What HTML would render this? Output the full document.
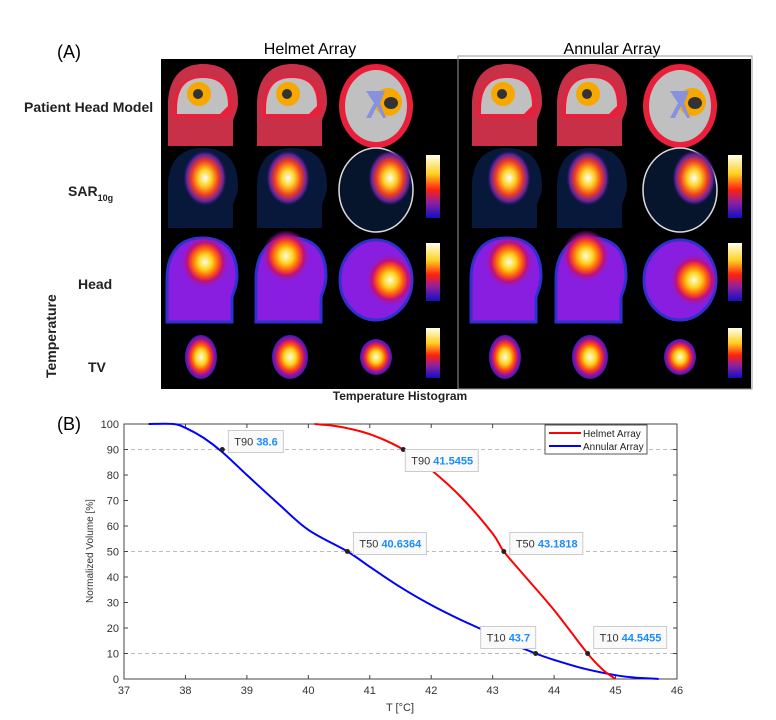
<!DOCTYPE html>
<html><head><meta charset="utf-8"><style>
body{margin:0;background:#fff;width:776px;height:720px;overflow:hidden;font-family:"Liberation Sans",sans-serif}
svg{position:absolute;left:0;top:0}
</style></head><body>
<svg id="fig" width="776" height="720" viewBox="0 0 776 720" xmlns="http://www.w3.org/2000/svg">
<defs>
<radialGradient id="hot" cx="50%" cy="50%" r="50%">
<stop offset="0" stop-color="#fffde0"/><stop offset="0.3" stop-color="#ffd21a"/><stop offset="0.55" stop-color="#ff5a10"/><stop offset="0.75" stop-color="#c0107a"/><stop offset="1" stop-color="#8a20c8" stop-opacity="0"/></radialGradient>
<radialGradient id="hotTV" cx="50%" cy="50%" r="50%">
<stop offset="0" stop-color="#fffde0"/><stop offset="0.35" stop-color="#ffd21a"/><stop offset="0.6" stop-color="#ff4a10"/><stop offset="0.8" stop-color="#b0108a"/><stop offset="1" stop-color="#3020c0"/></radialGradient>
<radialGradient id="sar" cx="50%" cy="50%" r="50%">
<stop offset="0" stop-color="#fff"/><stop offset="0.3" stop-color="#ffd020"/><stop offset="0.6" stop-color="#f04020"/><stop offset="0.85" stop-color="#6020a0"/><stop offset="1" stop-color="#0a1a40" stop-opacity="0"/></radialGradient>
<linearGradient id="cbar" x1="0" y1="0" x2="0" y2="1">
<stop offset="0" stop-color="#fffff0"/><stop offset="0.3" stop-color="#ffd020"/><stop offset="0.55" stop-color="#ff2010"/><stop offset="0.75" stop-color="#9020a0"/><stop offset="1" stop-color="#1010c0"/></linearGradient>
</defs>
<g id="panelA">
<text x="57" y="58" font-size="18">(A)</text>
<text x="310" y="54" font-size="16" text-anchor="middle">Helmet Array</text>
<text x="612" y="54" font-size="16" text-anchor="middle">Annular Array</text>
<rect x="161" y="59" width="590" height="330" fill="#000"/>
<line x1="458" y1="56" x2="458" y2="389" stroke="#888" stroke-width="1"/>
<rect x="458" y="56" width="294" height="333" fill="none" stroke="#999"/>
<text x="24" y="112" font-size="14" font-weight="bold" fill="#222">Patient  Head Model</text>
<text x="68" y="196" font-size="14" font-weight="bold" fill="#222">SAR<tspan font-size="9" dy="5">10g</tspan></text>
<text x="78" y="289" font-size="14" font-weight="bold" fill="#222">Head</text>
<text x="88" y="372" font-size="14" font-weight="bold" fill="#222">TV</text>
<text transform="translate(56,378) rotate(-90)" font-size="14" font-weight="bold" fill="#222">Temperature</text>
<text x="400" y="400" font-size="12" font-weight="bold" text-anchor="middle" fill="#222">Temperature Histogram</text>
<g id="imgs"></g>
</g>
<g id="panelB">
<text x="57" y="430" font-size="18">(B)</text>
<rect x="124" y="424" width="553" height="255" fill="#fff" stroke="#444" stroke-width="1"/>
<g id="grid"></g><g id="ticks"></g><g id="series"></g><g id="labels"></g>
<text transform="translate(93,551) rotate(-90)" font-size="10" text-anchor="middle" fill="#333">Normalized Volume  [%]</text>
<text x="400" y="711" font-size="11" text-anchor="middle" fill="#333">T [°C]</text>
<g>
<rect x="545" y="425" width="102" height="29" fill="#fff" stroke="#555"/>
<line x1="549" y1="433" x2="581" y2="433" stroke="#f00" stroke-width="2"/>
<text x="583" y="437" font-size="10" fill="#222">Helmet Array</text>
<line x1="549" y1="446" x2="581" y2="446" stroke="#00f" stroke-width="2"/>
<text x="583" y="450" font-size="10" fill="#222">Annular Array</text>
</g>
</g>
</svg>
<script>
var NS="http://www.w3.org/2000/svg";
function mk(p,t,a){var e=document.createElementNS(NS,t);for(var k in a)e.setAttribute(k,a[k]);p.appendChild(e);return e;}
// ---- chart data ----
var xTicks=[37,38,39,40,41,42,43,44,45,46];
var yTicks=[0,10,20,30,40,50,60,70,80,90,100];
var gridLevels=[10,50,90];
var annularT=[37.4,37.8,38.0,38.3,38.6,39.0,39.5,40.0,40.6364,41.0,41.5,42.0,42.5,43.0,43.3,43.7,44.0,44.5,45.0,45.3,45.7];
var annularV=[100,100,98.5,94.5,89,80,69,58.5,50,44,36,29,23,17.5,14,10,7.5,4,1.5,0.6,0];
var helmetT=[40.1,40.5,41.0,41.5455,42.0,42.5,43.0,43.1818,43.5,44.0,44.5455,44.8,45.0];
var helmetV=[100,99,96,90,82,71,57,50,41,27,10,3.5,0];
var markerLabels=["T90","T50","T10","T90","T50","T10"];
var markerValues=[38.6,40.6364,43.7,41.5455,43.1818,44.5455];
var markerLevels=[90,50,10,90,50,10];
var markerText=["38.6","40.6364","43.7","41.5455","43.1818","44.5455"];
var labelDx=[6,6,-55,2,6,6];
var labelDy=[-19,-19,-27,0,-19,-27];
function X(t){return 124+(t-37)*(553/9);}
function Y(v){return 679-v*2.55;}
var grid=document.getElementById('grid'),ticks=document.getElementById('ticks'),ser=document.getElementById('series'),lab=document.getElementById('labels');
gridLevels.forEach(function(v){var l=mk(grid,'line',{x1:124,x2:677,y1:Y(v),y2:Y(v),stroke:'#bbb','stroke-dasharray':'4,3'});

});
xTicks.forEach(function(t){mk(ticks,'line',{x1:X(t),x2:X(t),y1:679,y2:675,stroke:'#444'});mk(ticks,'line',{x1:X(t),x2:X(t),y1:424,y2:428,stroke:'#444'});
var e=mk(ticks,'text',{x:X(t),y:694,'font-size':11,'text-anchor':'middle',fill:'#333'});e.textContent=t;

});
yTicks.forEach(function(v){mk(ticks,'line',{x1:124,x2:128,y1:Y(v),y2:Y(v),stroke:'#444'});mk(ticks,'line',{x1:677,x2:673,y1:Y(v),y2:Y(v),stroke:'#444'});
var e=mk(ticks,'text',{x:119,y:Y(v)+4,'font-size':11,'text-anchor':'end',fill:'#333'});e.textContent=v;

});
function path(ts,vs){
 var p=ts.map(function(t,i){return [X(t),Y(vs[i])];});
 var d='M'+p[0][0].toFixed(1)+','+p[0][1].toFixed(1);
 for(var i=0;i<p.length-1;i++){
  var p0=p[i>0?i-1:i],p1=p[i],p2=p[i+1],p3=p[i+2<p.length?i+2:i+1];
  var c1x=p1[0]+(p2[0]-p0[0])/6,c1y=p1[1]+(p2[1]-p0[1])/6,c2x=p2[0]-(p3[0]-p1[0])/6,c2y=p2[1]-(p3[1]-p1[1])/6;
  d+='C'+c1x.toFixed(1)+','+c1y.toFixed(1)+' '+c2x.toFixed(1)+','+c2y.toFixed(1)+' '+p2[0].toFixed(1)+','+p2[1].toFixed(1);
 }
 return d;}
var pa=mk(ser,'path',{d:path(annularT,annularV),fill:'none',stroke:'#00f','stroke-width':2,'stroke-linejoin':'round'});


var ph=mk(ser,'path',{d:path(helmetT,helmetV),fill:'none',stroke:'#f00','stroke-width':2,'stroke-linejoin':'round'});


for(var i=0;i<markerValues.length;i++){
 var cx=X(markerValues[i]),cy=Y(markerLevels[i]);
 var d=mk(lab,'circle',{cx:cx,cy:cy,r:2.5,fill:'#222'});
 
 
 var bx=cx+labelDx[i],by=cy+labelDy[i],w=markerText[i].length>4?73:55;
 var g=mk(lab,'g',{});
 
 
 mk(g,'rect',{x:bx,y:by,width:w,height:22,fill:'#fafafa',stroke:'#ccc'});
 var t=mk(g,'text',{x:bx+6,y:by+15,'font-size':11,fill:'#333'});t.textContent=markerLabels[i]+' ';
 var s=mk(t,'tspan',{fill:'#1a8cff','font-weight':'bold'});s.textContent=markerText[i];
}
// ---- panel A images ----
var imgs=document.getElementById('imgs');
var cols=[[201,290,376,426],[505,590,680,728]];
function headModel(cx,cy,axial){
 if(axial){mk(imgs,'ellipse',{cx:cx,cy:cy,rx:37,ry:42,fill:'#e8203c'});mk(imgs,'ellipse',{cx:cx,cy:cy,rx:31,ry:36,fill:'#c0c0c0'});
  mk(imgs,'circle',{cx:cx+12,cy:cy-4,r:14,fill:'#f7a800'});mk(imgs,'ellipse',{cx:cx+15,cy:cy-3,rx:7,ry:6,fill:'#333'});
  mk(imgs,'path',{d:'M'+(cx-10)+','+(cy-15)+'l8,12l-8,15h5l6,-12l6,12h3l-6,-15l5,-12z',fill:'#8890e0'});}
 else{mk(imgs,'path',{d:'M'+(cx-33)+','+(cy+40)+'l0,-40c0,-30 15,-42 35,-42c25,0 35,15 35,38c0,10 -5,15 -5,20l0,24z',fill:'#c83048'});
  mk(imgs,'path',{d:'M'+(cx-28)+','+(cy+8)+'c0,-28 12,-38 30,-38c22,0 30,12 30,32c0,5 -3,8 -8,10l-50,0z',fill:'#e8203c'});
  mk(imgs,'path',{d:'M'+(cx-24)+','+(cy+4)+'c0,-24 10,-32 26,-32c18,0 25,10 25,28l-8,8l-43,0z',fill:'#c0c0c0'});
  mk(imgs,'circle',{cx:cx-2,cy:cy-12,r:12,fill:'#f7a800'});mk(imgs,'circle',{cx:cx-3,cy:cy-12,r:5,fill:'#333'});}
}
function sar(cx,cy,dx,axial){
 if(axial){mk(imgs,'ellipse',{cx:cx,cy:cy,rx:37,ry:42,fill:'#06142c',stroke:'#ddd','stroke-width':1.5});}
 else mk(imgs,'path',{d:'M'+(cx-33)+','+(cy+38)+'l0,-40c0,-30 15,-40 35,-40c25,0 35,15 35,38c0,10 -5,15 -5,20l0,22z',fill:'#08183a'});
 mk(imgs,'ellipse',{cx:cx+dx,cy:cy-12,rx:22,ry:28,fill:'url(#sar)'});
}
function temp(cx,cy,dx,dy,axial){
 if(axial)mk(imgs,'ellipse',{cx:cx,cy:cy,rx:36,ry:40,fill:'#8a1ee0',stroke:'#3030d0','stroke-width':3});
 else mk(imgs,'path',{d:'M'+(cx-34)+','+(cy+42)+'l0,-42c0,-30 15,-42 35,-42c25,0 35,15 35,38c0,12 -5,18 -5,22l0,24z',fill:'#8a1ee0',stroke:'#3030d0','stroke-width':3});
 mk(imgs,'ellipse',{cx:cx+dx,cy:cy+dy,rx:24,ry:26,fill:'url(#hot)'});
}
function tv(cx,cy,rx,ry){mk(imgs,'ellipse',{cx:cx,cy:cy,rx:rx,ry:ry,fill:'url(#hotTV)'});}
function cbar(x,y,h){mk(imgs,'rect',{x:x,y:y,width:14,height:h,fill:'url(#cbar)'});}
cols.forEach(function(c,k){
 headModel(c[0],106,false);headModel(c[1],106,false);headModel(c[2],106,true);
 sar(c[0],190,4,false);sar(c[1],190,-2,false);sar(c[2],190,14,true);cbar(c[3],155,63);
 temp(c[0],280,4,-18,false);temp(c[1],280,-4,-24,false);temp(c[2],280,14,0,true);cbar(c[3],243,58);
 tv(c[0],357,16,22);tv(c[1],357,18,22);tv(c[2],357,16,18);cbar(c[3],328,50);
});
</script>
</body></html>
